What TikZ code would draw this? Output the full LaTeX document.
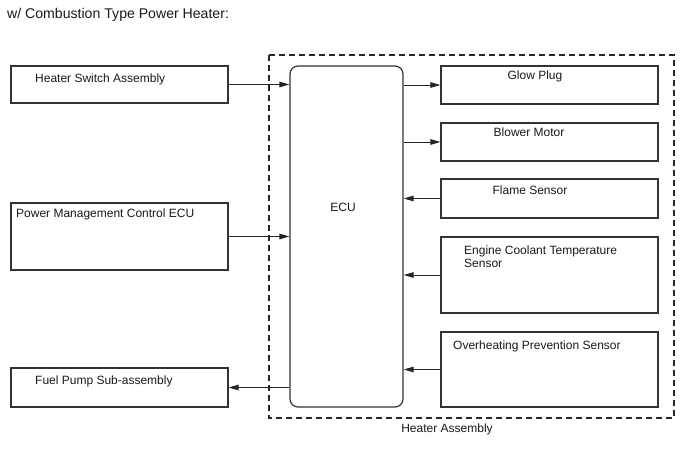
\documentclass[tikz,border=0pt]{standalone}
\usepackage{fontspec}
\setmainfont{Liberation Sans}
\usetikzlibrary{arrows.meta}
\begin{document}
\begin{tikzpicture}[x=1pt,y=-1pt,
  box/.style={draw=black!80,line width=1.1pt,rectangle,inner sep=0pt},
  ecubox/.style={draw=black!80,line width=1.2pt,rectangle,rounded corners=8pt,inner sep=0pt},
  grp/.style={draw=black!85,line width=1.2pt,dash pattern=on 6pt off 4pt},
  lbl/.style={inner sep=0pt,font=\fontsize{12}{13.7}\selectfont,text=black!90},
  ttl/.style={inner sep=0pt,font=\fontsize{14.1}{16}\selectfont,text=black!90},
  conn/.style={draw=black!85,line width=1pt,-{Triangle[length=10pt,width=5.5pt]}}]
\useasboundingbox (0,0) rectangle (688,463);
\fill[white] (0,0) rectangle (688,463);
% title
\node[ttl,anchor=base west] (title) at (7,18.5) {w/ Combustion Type Power Heater:};
% group frame
\draw[grp] (269,55) rectangle (674,418);
\node[lbl,anchor=base] (grplbl) at (447,432) {Heater Assembly};
% left boxes
\node[box,minimum width=217pt,minimum height=37pt] (hs) at (119.5,84.5) {};
\node[box,minimum width=217pt,minimum height=67pt] (pmc) at (119.5,236.5) {};
\node[box,minimum width=217pt,minimum height=39pt] (fp) at (119.5,387.5) {};
% ECU
\node[ecubox,minimum width=113pt,minimum height=341pt] (ecu) at (346.5,236.5) {};
% right boxes
\node[box,minimum width=217pt,minimum height=38pt] (gp) at (549.5,85) {};
\node[box,minimum width=217pt,minimum height=38pt] (bm) at (549.5,142) {};
\node[box,minimum width=217pt,minimum height=39pt] (fs) at (549.5,198.5) {};
\node[box,minimum width=217pt,minimum height=76pt] (ect) at (549.5,275) {};
\node[box,minimum width=217pt,minimum height=75pt] (ops) at (549.5,369.5) {};
% labels
\node[lbl,anchor=base west] (hst) at (35,82) {Heater Switch Assembly};
\node[lbl,anchor=base west] (pmct) at (16,217) {Power Management Control ECU};
\node[lbl,anchor=base west] (fpt) at (35,384) {Fuel Pump Sub-assembly};
\node[lbl,anchor=base] (ecut) at (343,211) {ECU};
\node[lbl,anchor=base] (gpt) at (535,79.5) {Glow Plug};
\node[lbl,anchor=base] (bmt) at (529,136.7) {Blower Motor};
\node[lbl,anchor=base] (fst) at (530,194) {Flame Sensor};
\node[lbl,anchor=base west] (ectt1) at (464,254) {Engine Coolant Temperature};
\node[lbl,anchor=base west] (ectt2) at (464,267.7) {Sensor};
\node[lbl,anchor=base west] (opst) at (453,349) {Overheating Prevention Sensor};
% connectors
\draw[conn] (hs.east) -- (hs.east -| ecu.west);
\draw[conn] (pmc.east) -- (pmc.east -| ecu.west);
\draw[conn] (fp.east -| ecu.west) -- (fp.east);
\draw[conn] (gp.west -| ecu.east) -- (gp.west);
\draw[conn] (bm.west -| ecu.east) -- (bm.west);
\draw[conn] (fs.west) -- (fs.west -| ecu.east);
\draw[conn] (ect.west) -- (ect.west -| ecu.east);
\draw[conn] (ops.west) -- (ops.west -| ecu.east);
\end{tikzpicture}
\end{document}
